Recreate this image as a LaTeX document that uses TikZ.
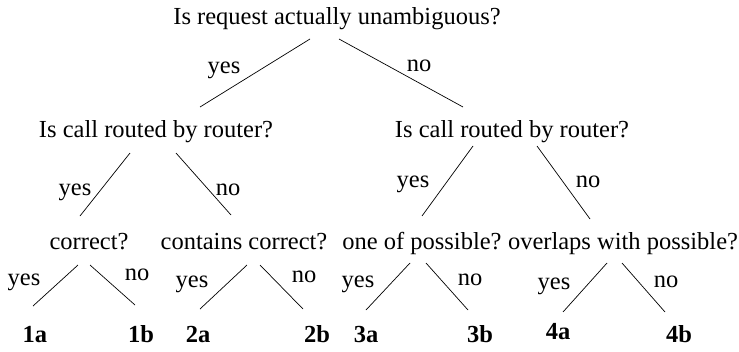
\documentclass[tikz,border=0pt]{standalone}
\usepackage{fontspec}
\setmainfont{Liberation Serif}
\usepackage{tikz}

\tikzset{
  q/.style={anchor=base, inner sep=0pt},
  lbl/.style={anchor=base, inner sep=0pt},
  leaf/.style={anchor=base, inner sep=0pt, font=\fontsize{24.5}{29}\selectfont\bfseries},
  br/.style={line width=0.7pt}
}

\begin{document}
\begin{tikzpicture}[x=1pt, y=-1pt, font=\fontsize{24.5}{29}\selectfont]

\useasboundingbox (0,0) rectangle (739,351);

% questions
\node[q] (root) at (337,24) {Is request actually unambiguous?};

\node[q] (rl) at (156,137) {Is call routed by router?};
\node[q] (rr) at (512,137) {Is call routed by router?};

\node[q] (cor) at (89,249) {correct?};
\node[q] (con) at (244,249) {contains correct?};
\node[q] (one) at (422,249) {one of possible?};
\node[q] (ovl) at (623,249) {overlaps with possible?};

% leaves
\node[leaf] (1a) at (35,342) {1a};
\node[leaf] (1b) at (141,342) {1b};
\node[leaf] (2a) at (198,342) {2a};
\node[leaf] (2b) at (317,342) {2b};
\node[leaf] (3a) at (366,342) {3a};
\node[leaf] (3b) at (480,342) {3b};
\node[leaf] (4a) at (558,339) {4a};
\node[leaf] (4b) at (679,342) {4b};

% branches
\draw[br] ([shift={(-27,15)}]root.base) -- ([shift={(44,-30)}]rl.base);
\draw[br] ([shift={(2,15)}]root.base) -- ([shift={(-49,-30)}]rr.base);

\draw[br] ([shift={(-26,16)}]rl.base) -- ([shift={(-9,-33)}]cor.base);
\draw[br] ([shift={(20,16)}]rl.base) -- ([shift={(-13,-34)}]con.base);
\draw[br] ([shift={(-39,9)}]rr.base) -- ([shift={(0,-33)}]one.base);
\draw[br] ([shift={(25,9)}]rr.base) -- ([shift={(-33,-30)}]ovl.base);

\draw[br] ([shift={(-11,16)}]cor.base) -- ([shift={(-2,-36)}]1a.base);
\draw[br] ([shift={(1,16)}]cor.base) -- ([shift={(-6,-37)}]1b.base);
\draw[br] ([shift={(3,16)}]con.base) -- ([shift={(2,-33)}]2a.base);
\draw[br] ([shift={(16,16)}]con.base) -- ([shift={(-14,-33)}]2b.base);
\draw[br] ([shift={(-12,14)}]one.base) -- ([shift={(0,-32)}]3a.base);
\draw[br] ([shift={(4,14)}]one.base) -- ([shift={(-12,-32)}]3b.base);
\draw[br] ([shift={(-16,14)}]ovl.base) -- ([shift={(5,-27)}]4a.base);
\draw[br] ([shift={(-1,14)}]ovl.base) -- ([shift={(-14,-30)}]4b.base);

% answers
\node[lbl] (y0) at (224,73) {yes};
\node[lbl] (n0) at (419,71) {no};

\node[lbl] (y1) at (75,195) {yes};
\node[lbl] (n1) at (228,195) {no};
\node[lbl] (y2) at (413,187) {yes};
\node[lbl] (n2) at (588,187) {no};

\node[lbl] (y3) at (24,285) {yes};
\node[lbl] (n3) at (137,280) {no};
\node[lbl] (y4) at (192,287) {yes};
\node[lbl] (n4) at (304,282) {no};
\node[lbl] (y5) at (358,287) {yes};
\node[lbl] (n5) at (470,285) {no};
\node[lbl] (y6) at (554,289) {yes};
\node[lbl] (n6) at (666,287) {no};

\end{tikzpicture}
\end{document}
